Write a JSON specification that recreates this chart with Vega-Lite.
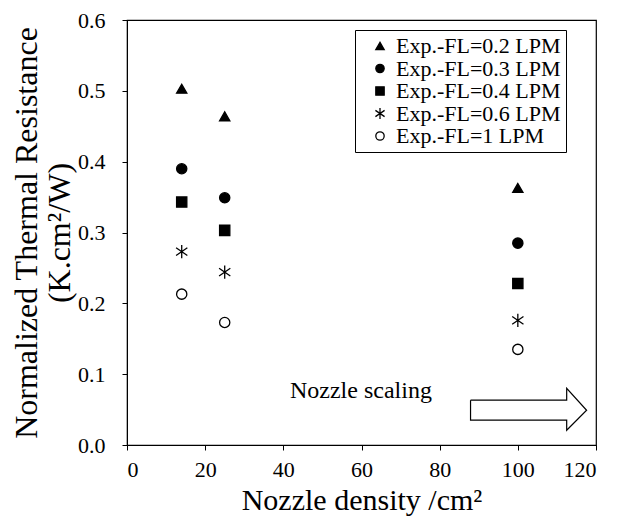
{
  "$schema": "https://vega.github.io/schema/vega-lite/v6.json",
  "autosize": {"type": "none"},
  "width": 469,
  "height": 425,
  "padding": {"left": 127, "top": 20, "right": 21, "bottom": 80},
  "config": {
    "view": {"stroke": "black", "strokeWidth": 1.2},
    "font": "Liberation Serif",
    "axis": {"domainColor": "black", "tickColor": "black", "labelColor": "black", "titleColor": "black", "grid": false, "labelFont": "Liberation Serif", "titleFont": "Liberation Serif", "titleFontWeight": "normal"},
    "legend": {"labelFont": "Liberation Serif", "labelLimit": 400}
  },
  "layer": [
    {
      "data": {"values": [
        {"density": 14, "R": 0.503, "series": "Exp.-FL=0.2 LPM"},
        {"density": 14, "R": 0.390, "series": "Exp.-FL=0.3 LPM"},
        {"density": 14, "R": 0.343, "series": "Exp.-FL=0.4 LPM"},
        {"density": 14, "R": 0.273, "series": "Exp.-FL=0.6 LPM"},
        {"density": 14, "R": 0.213, "series": "Exp.-FL=1 LPM"},
        {"density": 25, "R": 0.464, "series": "Exp.-FL=0.2 LPM"},
        {"density": 25, "R": 0.349, "series": "Exp.-FL=0.3 LPM"},
        {"density": 25, "R": 0.303, "series": "Exp.-FL=0.4 LPM"},
        {"density": 25, "R": 0.244, "series": "Exp.-FL=0.6 LPM"},
        {"density": 25, "R": 0.173, "series": "Exp.-FL=1 LPM"},
        {"density": 100, "R": 0.363, "series": "Exp.-FL=0.2 LPM"},
        {"density": 100, "R": 0.285, "series": "Exp.-FL=0.3 LPM"},
        {"density": 100, "R": 0.228, "series": "Exp.-FL=0.4 LPM"},
        {"density": 100, "R": 0.176, "series": "Exp.-FL=0.6 LPM"},
        {"density": 100, "R": 0.135, "series": "Exp.-FL=1 LPM"}
      ]},
      "mark": {"type": "point", "size": 105, "strokeWidth": 1.3, "opacity": 1},
      "encoding": {
        "x": {"field": "density", "type": "quantitative", "scale": {"domain": [0, 120], "nice": false},
          "axis": {"orient": "bottom", "values": [0, 20, 40, 60, 80, 100, 120], "tickSize": 5, "labelPadding": 9, "labelFontSize": 22, "labelFont": "Liberation Serif", "domain": true, "title": "Nozzle density /cm²", "titleFontSize": 30, "titleFont": "Liberation Serif", "titlePadding": 5}},
        "y": {"field": "R", "type": "quantitative", "scale": {"domain": [0, 0.6], "nice": false},
          "axis": {"orient": "left", "values": [0, 0.1, 0.2, 0.3, 0.4, 0.5, 0.6], "format": ".1f", "tickSize": 5, "labelPadding": 17, "labelFontSize": 22, "labelFont": "Liberation Serif", "domain": true, "title": ["Normalized Thermal Resistance", "(K.cm²/W)"], "titleFontSize": 32, "titleFont": "Liberation Serif", "titleLineHeight": 33, "titlePadding": 1}},
        "shape": {"field": "series", "type": "nominal",
          "scale": {"domain": ["Exp.-FL=0.2 LPM", "Exp.-FL=0.3 LPM", "Exp.-FL=0.4 LPM", "Exp.-FL=0.6 LPM", "Exp.-FL=1 LPM"],
            "range": ["triangle-up", "circle", "square", "M0,-1.3L0,1.3M-1.1,-0.75L1.1,0.75M-1.1,0.75L1.1,-0.75", "circle"]},
          "legend": {"title": null, "orient": "none", "legendX": 228, "legendY": 10, "strokeColor": "black", "fillColor": "white", "padding": 5, "labelFont": "Liberation Serif", "labelFontSize": 22, "labelColor": "black", "labelLimit": 400, "symbolSize": 70, "symbolStrokeWidth": 1.3, "symbolOffset": 9, "rowPadding": 0.5, "labelOffset": 5}},
        "fill": {"field": "series", "type": "nominal",
          "scale": {"domain": ["Exp.-FL=0.2 LPM", "Exp.-FL=0.3 LPM", "Exp.-FL=0.4 LPM", "Exp.-FL=0.6 LPM", "Exp.-FL=1 LPM"],
            "range": ["black", "black", "black", "black", "white"]},
          "legend": {"title": null, "orient": "none", "legendX": 228, "legendY": 10, "strokeColor": "black", "fillColor": "white", "padding": 5, "labelFont": "Liberation Serif", "labelFontSize": 22, "labelColor": "black", "labelLimit": 400, "symbolSize": 70, "symbolStrokeWidth": 1.3, "symbolOffset": 9, "rowPadding": 0.5, "labelOffset": 5}},
        "stroke": {"field": "series", "type": "nominal",
          "scale": {"domain": ["Exp.-FL=0.2 LPM", "Exp.-FL=0.3 LPM", "Exp.-FL=0.4 LPM", "Exp.-FL=0.6 LPM", "Exp.-FL=1 LPM"],
            "range": ["black", "black", "black", "black", "black"]},
          "legend": {"title": null, "orient": "none", "legendX": 228, "legendY": 10, "strokeColor": "black", "fillColor": "white", "padding": 5, "labelFont": "Liberation Serif", "labelFontSize": 22, "labelColor": "black", "labelLimit": 400, "symbolSize": 70, "symbolStrokeWidth": 1.3, "symbolOffset": 9, "rowPadding": 0.5, "labelOffset": 5}}
      }
    },
    {
      "data": {"values": [{"x": 41.7, "y": 0.066, "label": "Nozzle scaling"}]},
      "mark": {"type": "text", "align": "left", "baseline": "alphabetic", "font": "Liberation Serif", "fontSize": 24, "color": "black"},
      "encoding": {
        "x": {"field": "x", "type": "quantitative", "axis": null},
        "y": {"field": "y", "type": "quantitative", "axis": null},
        "text": {"field": "label"}
      }
    },
    {
      "data": {"values": [
        {"ord": 1, "x": 87.9, "y": 0.0633},
        {"ord": 2, "x": 112.5, "y": 0.0633},
        {"ord": 3, "x": 112.5, "y": 0.080},
        {"ord": 4, "x": 117.6, "y": 0.049},
        {"ord": 5, "x": 112.5, "y": 0.0209},
        {"ord": 6, "x": 112.5, "y": 0.035},
        {"ord": 7, "x": 87.9, "y": 0.035},
        {"ord": 8, "x": 87.9, "y": 0.0633}
      ]},
      "mark": {"type": "line", "color": "black", "strokeWidth": 1.2, "strokeJoin": "miter"},
      "encoding": {
        "x": {"field": "x", "type": "quantitative", "axis": null},
        "y": {"field": "y", "type": "quantitative", "axis": null},
        "order": {"field": "ord", "type": "quantitative"}
      }
    }
  ],
  "resolve": {"axis": {"x": "independent", "y": "independent"}}
}
